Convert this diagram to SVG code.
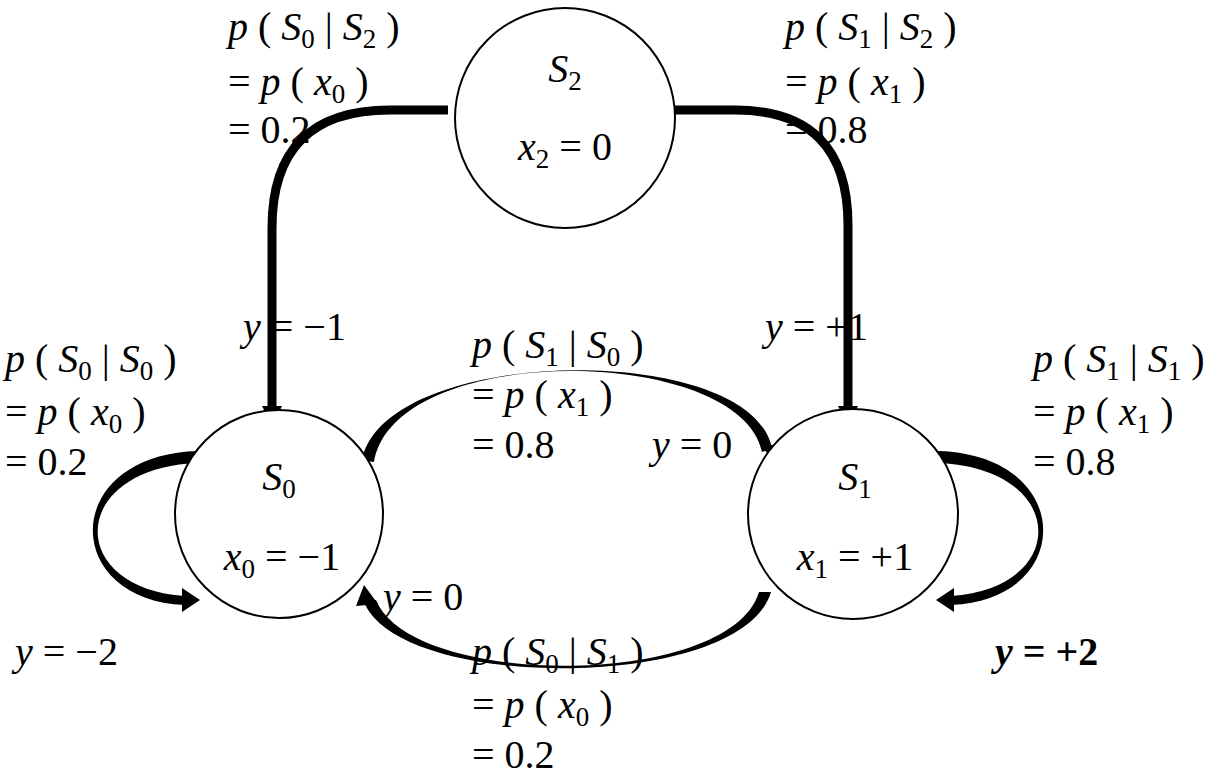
<svg xmlns="http://www.w3.org/2000/svg" width="1228" height="782" viewBox="0 0 1228 782" font-family="'Liberation Serif', 'DejaVu Serif', serif">
<style>
text{font-family:"Liberation Serif","DejaVu Serif","Times New Roman",serif;font-size:40px;fill:#000}
.i{font-style:italic}
.s{font-size:27px;font-style:normal}
.c{text-anchor:middle}
.node{fill:#fff;stroke:#000;stroke-width:2}
.line{fill:none;stroke:#000;stroke-width:9}
.fill{fill:#000;stroke:none}
</style>
<rect width="1228" height="782" fill="#fff"/>
<g id="connectors">
<path class="line" d="M448,110 L390,110 Q272,110 272,228 L272,408"/>
<polygon class="fill" points="262,406 282,406 272,426"/>
<path class="line" d="M675,110 L735,110 Q848,110 848,225 L848,408"/>
<polygon class="fill" points="838,406 858,406 848,426"/>
<path class="fill" d="M198,451 C60,455 60,600 185,605 L185,596 C65,588 68,468 198,463 Z"/>
<polygon class="fill" points="182,588 200,600 182,612"/>
<path class="fill" d="M938,451 C1076,455 1076,600 951,605 L951,596 C1071,588 1068,468 938,463 Z"/>
<polygon class="fill" points="954,588 936,600 954,612"/>
<path class="fill" d="M362,460 C385,345 750,340 772,448 L762,452 C740,345 395,340 374,462 Z"/>
<polygon class="fill" points="760,445 786,445 778,465"/>
<path class="fill" d="M771,592 C742,692 400,692 364,602 L376,600 C412,689 730,689 759,592 Z"/>
<polygon class="fill" points="356,606 378,604 364,585"/>
</g>
<g id="S2">
<circle class="node" cx="565" cy="118" r="110"/>
<text class="c" x="565" y="82"><tspan class="i">S</tspan><tspan class="s" dy="8">2</tspan></text>
<text class="c" x="565" y="160"><tspan class="i">x</tspan><tspan class="s" dy="8">2</tspan><tspan dy="-8"> =  0</tspan></text>
</g>
<g id="S0">
<circle class="node" cx="279" cy="514" r="104"/>
<text class="c" x="279" y="490"><tspan class="i">S</tspan><tspan class="s" dy="8">0</tspan></text>
<text class="c" x="282" y="570"><tspan class="i">x</tspan><tspan class="s" dy="8">0</tspan><tspan dy="-8"> = −1</tspan></text>
</g>
<g id="S1">
<circle class="node" cx="853" cy="514" r="105"/>
<text class="c" x="855" y="490"><tspan class="i">S</tspan><tspan class="s" dy="8">1</tspan></text>
<text class="c" x="855" y="570"><tspan class="i">x</tspan><tspan class="s" dy="8">1</tspan><tspan dy="-8"> =  +1</tspan></text>
</g>
<g id="labels">
<text x="228" y="40"><tspan class="i">p</tspan> ( <tspan class="i">S</tspan><tspan class="s" dy="8">0</tspan><tspan dy="-8"> | </tspan><tspan class="i">S</tspan><tspan class="s" dy="8">2</tspan><tspan dy="-8"> )</tspan></text>
<text x="228" y="95">= <tspan class="i">p</tspan> ( <tspan class="i">x</tspan><tspan class="s" dy="8">0</tspan><tspan dy="-8"> )</tspan></text>
<text x="228" y="143">= 0.2</text>
<text x="785" y="40"><tspan class="i">p</tspan> ( <tspan class="i">S</tspan><tspan class="s" dy="8">1</tspan><tspan dy="-8"> | </tspan><tspan class="i">S</tspan><tspan class="s" dy="8">2</tspan><tspan dy="-8"> )</tspan></text>
<text x="785" y="95">= <tspan class="i">p</tspan> ( <tspan class="i">x</tspan><tspan class="s" dy="8">1</tspan><tspan dy="-8"> )</tspan></text>
<text x="785" y="143">= 0.8</text>
<text x="243" y="340"><tspan class="i">y</tspan>  =  −1</text>
<text x="765" y="340"><tspan class="i">y</tspan>  =    +1</text>
<text x="5" y="372"><tspan class="i">p</tspan> ( <tspan class="i">S</tspan><tspan class="s" dy="8">0</tspan><tspan dy="-8"> | </tspan><tspan class="i">S</tspan><tspan class="s" dy="8">0</tspan><tspan dy="-8"> )</tspan></text>
<text x="5" y="425">= <tspan class="i">p</tspan> ( <tspan class="i">x</tspan><tspan class="s" dy="8">0</tspan><tspan dy="-8"> )</tspan></text>
<text x="5" y="475">= 0.2</text>
<text x="472" y="358"><tspan class="i">p</tspan> ( <tspan class="i">S</tspan><tspan class="s" dy="8">1</tspan><tspan dy="-8"> | </tspan><tspan class="i">S</tspan><tspan class="s" dy="8">0</tspan><tspan dy="-8"> )</tspan></text>
<text x="472" y="408">= <tspan class="i">p</tspan> ( <tspan class="i">x</tspan><tspan class="s" dy="8">1</tspan><tspan dy="-8"> )</tspan></text>
<text x="472" y="458">= 0.8</text>
<text x="652" y="458"><tspan class="i">y</tspan>  = 0</text>
<text x="1033" y="372"><tspan class="i">p</tspan> ( <tspan class="i">S</tspan><tspan class="s" dy="8">1</tspan><tspan dy="-8"> | </tspan><tspan class="i">S</tspan><tspan class="s" dy="8">1</tspan><tspan dy="-8"> )</tspan></text>
<text x="1033" y="425">= <tspan class="i">p</tspan> ( <tspan class="i">x</tspan><tspan class="s" dy="8">1</tspan><tspan dy="-8"> )</tspan></text>
<text x="1033" y="475">= 0.8</text>
<text x="383" y="610"><tspan class="i">y</tspan>  = 0</text>
<text x="15" y="665"><tspan class="i">y</tspan>  =  −2</text>
<text x="995" y="665" font-weight="bold"><tspan class="i">y</tspan>  = +2</text>
<text x="472" y="665"><tspan class="i">p</tspan> ( <tspan class="i">S</tspan><tspan class="s" dy="8">0</tspan><tspan dy="-8"> | </tspan><tspan class="i">S</tspan><tspan class="s" dy="8">1</tspan><tspan dy="-8"> )</tspan></text>
<text x="472" y="718">= <tspan class="i">p</tspan> ( <tspan class="i">x</tspan><tspan class="s" dy="8">0</tspan><tspan dy="-8"> )</tspan></text>
<text x="472" y="768">= 0.2</text>
</g>
</svg>
